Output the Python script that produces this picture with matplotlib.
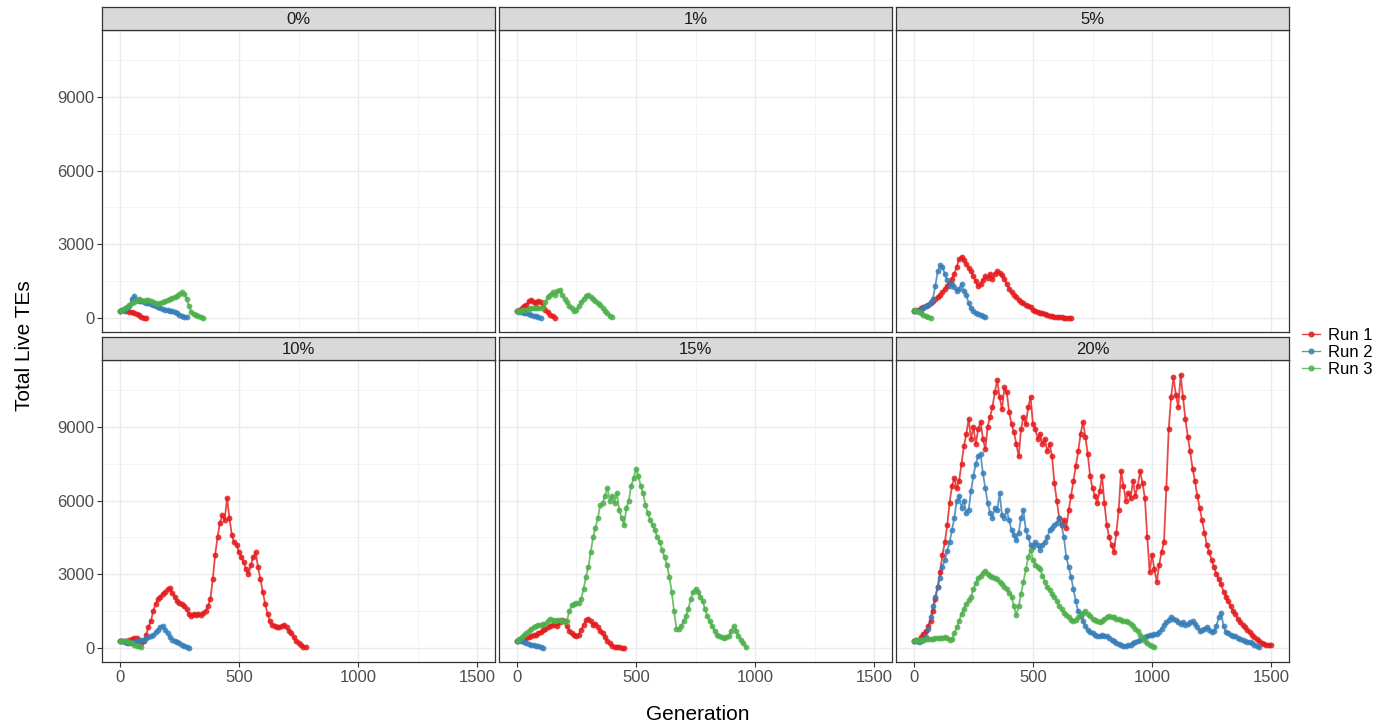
"""Total live TEs per generation, faceted by rate, three runs each."""

import matplotlib.pyplot as plt
import numpy as np

plt.rcParams["font.family"] = ["Liberation Sans", "DejaVu Sans"]

STEP = 10  # generations between the values

PANELS = ["0%", "1%", "5%", "10%", "15%", "20%"]
RUNS = ["Run 1", "Run 2", "Run 3"]
COLORS = ["#E41A1C", "#377EB8", "#4DAF4A"]

X_TICKS = [0, 500, 1000, 1500]
Y_TICKS = [0, 3000, 6000, 9000]

# values every STEP generations, starting at generation 0
p0_run1 = [300, 330, 300, 320, 260, 250, 230, 180, 120, 60, 20, 0]
p0_run2 = [300, 320, 350, 420, 500, 800, 900, 750, 700, 680, 650, 630, 600, 580, 550,
           500, 450, 420, 380, 350, 320, 300, 280, 240, 200, 150, 100, 60, 30]
p0_run3 = [300, 350, 400, 460, 520, 600, 650, 720, 780, 740, 700, 760, 720, 680, 650,
           600, 580, 620, 650, 700, 750, 800, 830, 870, 900, 980, 1050, 1000, 800, 500,
           250, 180, 120, 90, 60, 20]

p1_run1 = [300, 350, 400, 480, 550, 700, 750, 650, 600, 700, 650, 450, 350, 250, 150, 80, 10]
p1_run2 = [300, 270, 250, 220, 200, 170, 150, 110, 80, 40, 20]
p1_run3 = [300, 310, 320, 330, 350, 380, 400, 410, 420, 410, 400, 450, 650, 850, 950,
           1050, 950, 1100, 1150, 950, 800, 650, 500, 400, 300, 350, 500, 650, 800, 900,
           950, 850, 800, 700, 600, 550, 400, 300, 200, 100, 30]

p5_run1 = [300, 320, 350, 400, 450, 500, 550, 620, 700, 780, 850, 950, 1050, 1180, 1300,
           1450, 1600, 1800, 2100, 2400, 2500, 2350, 2200, 2050, 1900, 1700, 1500, 1300,
           1400, 1550, 1700, 1650, 1800, 1600, 1800, 1900, 1850, 1750, 1600, 1400, 1200,
           1050, 950, 850, 750, 650, 600, 550, 500, 450, 350, 300, 250, 220, 200, 160,
           120, 100, 80, 60, 50, 40, 30, 25, 20, 15, 10]
p5_run2 = [300, 280, 300, 350, 400, 480, 550, 650, 800, 1300, 1900, 2150, 2100, 1800,
           1550, 1300, 1400, 1250, 1100, 1200, 1400, 1100, 950, 600, 400, 300, 200, 160,
           120, 70, 30]
p5_run3 = [350, 300, 250, 200, 150, 100, 60, 20]

p10_run1 = [300, 290, 280, 300, 330, 380, 420, 400, 300, 200, 300, 550, 850, 1100, 1500,
            1800, 2000, 2100, 2200, 2300, 2400, 2450, 2250, 2100, 1900, 1850, 1800, 1700,
            1600, 1400, 1300, 1400, 1350, 1400, 1350, 1450, 1500, 1700, 2000, 2800, 3800,
            4500, 5100, 5400, 5200, 6100, 5300, 4600, 4300, 4200, 3900, 3700, 3500, 3200,
            3000, 3400, 3700, 3900, 3300, 2800, 2300, 1800, 1400, 1100, 950, 900, 850, 850,
            900, 950, 850, 700, 600, 450, 300, 200, 120, 60, 30]
p10_run2 = [300, 280, 250, 230, 220, 230, 250, 280, 300, 320, 350, 400, 450, 500, 550,
            650, 750, 850, 900, 750, 600, 450, 350, 300, 250, 200, 150, 100, 50, 20]
p10_run3 = [300, 300, 300, 280, 250, 200, 150, 110, 80, 50]

p15_run1 = [300, 320, 350, 380, 400, 450, 500, 520, 550, 600, 650, 720, 800, 850, 900,
            950, 1000, 900, 1050, 1150, 1100, 900, 700, 600, 550, 500, 550, 750, 950, 1150,
            1200, 1100, 950, 1000, 850, 700, 600, 450, 300, 200, 100, 60, 40, 30, 20, 10]
p15_run2 = [300, 290, 280, 240, 200, 170, 150, 120, 100, 70, 50, 20]
p15_run3 = [300, 380, 450, 520, 600, 700, 800, 850, 900, 930, 950, 980, 1000, 1100, 1200,
            1150, 1100, 1130, 1150, 1100, 1050, 1100, 1500, 1750, 1800, 1830, 1850, 2000,
            2400, 2900, 3300, 3900, 4500, 4900, 5300, 5800, 5900, 6200, 6500, 6000, 6200,
            5900, 6300, 5600, 5300, 5000, 5700, 6000, 6600, 6900, 7300, 7000, 6600, 6300,
            5800, 5500, 5200, 5000, 4800, 4500, 4300, 4000, 3700, 3400, 2900, 2300, 1500,
            800, 800, 900, 1100, 1300, 1600, 2000, 2300, 2400, 2300, 2100, 1900, 1600, 1300,
            1100, 900, 700, 550, 500, 450, 400, 450, 500, 700, 900, 700, 500, 350, 200, 50]

p20_run1 = [300, 320, 350, 450, 580, 700, 900, 1100, 1500, 2000, 2500, 3100, 3800, 4300,
            5000, 5900, 6600, 6900, 6500, 6800, 7500, 8200, 8700, 9300, 8500, 9000, 8300,
            8900, 9200, 8500, 8100, 9000, 9400, 9800, 10400, 10900, 10200, 9700, 10600,
            10400, 9600, 9100, 8800, 8300, 7800, 8900, 9400, 9100, 9800, 10200, 9100, 8900,
            8500, 8700, 8300, 8500, 8000, 8300, 7800, 6700, 6000, 5300, 5000, 5200, 4900,
            5600, 6200, 6800, 7400, 8000, 8700, 9200, 8600, 7900, 7000, 6500, 6200, 5900,
            6400, 7000, 5900, 5000, 4500, 4200, 3900, 4700, 5600, 7200, 6600, 6000, 6300,
            6100, 6800, 6200, 6600, 7200, 6700, 6100, 4500, 3100, 3800, 3200, 2700, 3400,
            3900, 4300, 6500, 8900, 10200, 11000, 10300, 9800, 11100, 10200, 9300, 8600,
            8000, 7300, 6800, 6200, 5700, 5200, 4700, 4200, 3900, 3600, 3300, 3000, 2800,
            2600, 2300, 2100, 1900, 1700, 1500, 1400, 1200, 1050, 950, 850, 750, 650, 550,
            450, 370, 300, 230, 170, 150, 130, 120]
p20_run2 = [300, 280, 260, 280, 330, 450, 800, 1250, 1700, 2100, 2500, 2850, 3300, 3600,
            3950, 4300, 4800, 5300, 6000, 6200, 5700, 6000, 5500, 5600, 6400, 7000, 7500,
            7800, 7900, 7100, 6500, 5900, 5500, 5300, 5700, 5600, 6300, 5400, 5300, 5600,
            5200, 4800, 4600, 4400, 4700, 5300, 5600, 4800, 4500, 4200, 4100, 4300, 4200,
            4000, 4200, 4300, 4500, 4800, 4900, 5000, 5100, 5300, 5000, 4500, 3700, 3300,
            2900, 2400, 1900, 1500, 1300, 1100, 900, 750, 650, 600, 550, 500, 480, 520, 500,
            480, 420, 350, 300, 230, 180, 130, 110, 100, 120, 150, 200, 260, 300, 350, 400,
            450, 500, 520, 550, 560, 580, 650, 800, 950, 1050, 1150, 1250, 1200, 1150, 1050,
            1000, 1050, 950, 1000, 1050, 1100, 1000, 850, 700, 750, 800, 850, 750, 650, 700,
            900, 1250, 1450, 900, 650, 600, 550, 500, 480, 420, 380, 320, 280, 260, 240, 200,
            150, 80, 30]
p20_run3 = [300, 320, 330, 340, 350, 360, 380, 390, 390, 400, 400, 420, 430, 440, 420,
            350, 380, 600, 850, 1100, 1400, 1600, 1800, 1950, 2100, 2400, 2650, 2850, 2950,
            3050, 3150, 3000, 2950, 2900, 2850, 2800, 2700, 2600, 2500, 2400, 2250, 2100,
            1700, 1350, 1700, 2200, 2700, 3200, 3700, 4000, 3600, 3400, 3300, 3200, 2950,
            2700, 2500, 2350, 2200, 2100, 1900, 1700, 1600, 1450, 1350, 1250, 1150, 1100,
            1150, 1250, 1350, 1450, 1500, 1400, 1300, 1200, 1150, 1100, 1050, 1100, 1200,
            1250, 1300, 1250, 1250, 1200, 1200, 1150, 1100, 1100, 1050, 1000, 900, 800, 700,
            550, 400, 300, 200, 120, 70, 30]

panel_series = {
    "0%": [p0_run1, p0_run2, p0_run3],
    "1%": [p1_run1, p1_run2, p1_run3],
    "5%": [p5_run1, p5_run2, p5_run3],
    "10%": [p10_run1, p10_run2, p10_run3],
    "15%": [p15_run1, p15_run2, p15_run3],
    "20%": [p20_run1, p20_run2, p20_run3],
}

FIG_W, FIG_H = 1377, 728
COL_LEFT = [102, 499, 896]
PANEL_W = 393
ROW_TOP = [30, 360]
PANEL_H = 302
STRIP_H = 23


def box(x0, y0, w, h):
    return [x0 / FIG_W, 1 - (y0 + h) / FIG_H, w / FIG_W, h / FIG_H]


fig = plt.figure(figsize=(FIG_W / 100, FIG_H / 100), dpi=100)

for i, name in enumerate(PANELS):
    row, col = divmod(i, 3)
    x0, y0 = COL_LEFT[col], ROW_TOP[row]

    ax = fig.add_axes(box(x0, y0, PANEL_W, PANEL_H))
    ax.set_xlim(-75, 1575)
    ax.set_ylim(-560, 11710)
    ax.set_xticks(X_TICKS)
    ax.set_yticks(Y_TICKS)
    ax.set_xticks([250, 750, 1250], minor=True)
    ax.set_yticks([1500, 4500, 7500, 10500], minor=True)
    ax.grid(which="major", color="#EBEBEB", linewidth=1.0)
    ax.grid(which="minor", color="#F2F2F2", linewidth=0.6)
    ax.set_axisbelow(True)
    for spine in ax.spines.values():
        spine.set_color("#333333")
        spine.set_linewidth(0.9)
    ax.tick_params(which="minor", length=0)
    ax.tick_params(which="major", length=3.5, width=0.8, color="#333333",
                   labelsize=12, labelcolor="#4D4D4D", pad=2)
    if col != 0:
        ax.tick_params(axis="y", length=0, labelleft=False)
    if row == 0:
        ax.tick_params(axis="x", length=0, labelbottom=False)

    for values, color in zip(panel_series[name], COLORS):
        gens = np.arange(len(values)) * STEP
        ax.plot(gens, values, color=color, linewidth=1.3, alpha=0.8, zorder=2)
        ax.plot(gens, values, "o", color=color, markersize=4.2, alpha=0.85,
                markeredgewidth=0, zorder=3)

    strip = fig.add_axes(box(x0, y0 - STRIP_H, PANEL_W, STRIP_H))
    strip.set_facecolor("#D9D9D9")
    strip.set_xticks([])
    strip.set_yticks([])
    for spine in strip.spines.values():
        spine.set_color("#333333")
        spine.set_linewidth(0.9)
    strip.text(0.5, 0.47, name, ha="center", va="center", fontsize=12,
               color="#1A1A1A", transform=strip.transAxes)

fig.text(698 / FIG_W, 1 - 714 / FIG_H, "Generation", ha="center", va="center",
         fontsize=15, color="black")
fig.text(25 / FIG_W, 1 - 346 / FIG_H, "Total Live TEs", ha="center", va="center",
         rotation=90, fontsize=15, color="black")

handles = [plt.Line2D([], [], color=c, marker="o", markersize=3.4, linewidth=1.0,
                      alpha=0.8) for c in COLORS]
fig.legend(handles, RUNS, loc="center left", bbox_to_anchor=(1302 / FIG_W, 1 - 352 / FIG_H),
           frameon=False, fontsize=12, handlelength=1.1, handletextpad=0.45,
           labelspacing=0.12, borderaxespad=0, borderpad=0)

fig.savefig("out.png", dpi=100)
